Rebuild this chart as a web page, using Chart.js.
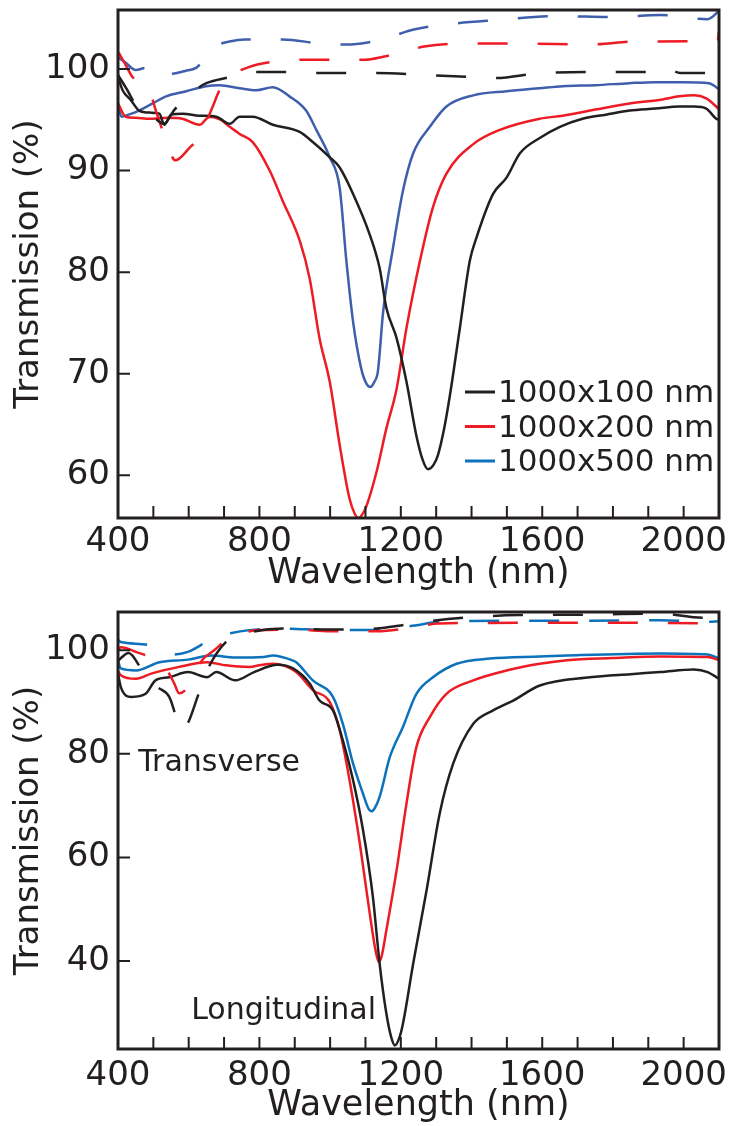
<!DOCTYPE html>
<html>
<head>
<meta charset="utf-8">
<script src="https://cdn.jsdelivr.net/npm/chart.js@4.4.0/dist/chart.umd.min.js"></script>
<style>
  html, body { margin: 0; padding: 0; background: #fff; }
  canvas { display: block; }
</style>
</head>
<body>
<canvas id="topChart" width="736" height="600"></canvas>
<canvas id="bottomChart" width="736" height="526"></canvas>
<script>
// wavelength (nm) / transmission (%)

// top panel, longitudinal (solid)
const top100X = [400, 413, 437, 460, 490, 517, 531, 550, 583, 630, 678, 716, 744, 781, 838, 914, 951, 999, 1027, 1065, 1112, 1140, 1159, 1188, 1216, 1244, 1262, 1277, 1292, 1305, 1322, 1339, 1367, 1395, 1414, 1461, 1499, 1537, 1593, 1650, 1714, 1780, 1847, 1920, 1988, 2030, 2064, 2092, 2100];
const top100Y = [99.2, 97.9, 96.9, 95.9, 95.7, 95.6, 94.5, 95.5, 95.6, 95.4, 95.3, 94.6, 95.3, 95.3, 94.5, 93.8, 92.8, 91.3, 90.3, 87.7, 83.7, 80.4, 76.5, 73.5, 69.2, 63.9, 61.5, 60.6, 61.0, 62.0, 64.5, 67.9, 74.5, 81.1, 83.4, 87.7, 89.3, 91.7, 93.2, 94.3, 95.1, 95.5, 95.9, 96.1, 96.3, 96.3, 96.1, 95.1, 95.0];
const top200X = [400, 422, 450, 489, 540, 582, 631, 659, 690, 716, 744, 781, 829, 866, 914, 942, 970, 999, 1027, 1055, 1070, 1080, 1092, 1103, 1131, 1159, 1188, 1216, 1254, 1291, 1329, 1405, 1480, 1593, 1658, 1750, 1847, 1940, 1988, 2030, 2064, 2092, 2100];
const top200Y = [96.6, 95.3, 95.2, 95.1, 95.2, 95.1, 94.5, 95.3, 95.0, 94.3, 93.6, 92.8, 90.0, 87.0, 83.1, 79.4, 73.5, 69.2, 63.0, 57.7, 56.2, 55.8, 56.2, 57.0, 60.3, 64.6, 68.5, 74.5, 81.1, 86.4, 89.7, 92.6, 94.0, 95.1, 95.4, 96.0, 96.6, 97.0, 97.3, 97.4, 97.1, 96.3, 96.0];
const top500X = [400, 410, 430, 460, 498, 536, 593, 649, 687, 744, 791, 838, 885, 932, 961, 999, 1027, 1046, 1065, 1088, 1103, 1114, 1125, 1135, 1150, 1178, 1206, 1235, 1282, 1329, 1405, 1499, 1593, 1658, 1750, 1846, 1920, 1998, 2072, 2092, 2100];
const top500Y = [96.5, 95.3, 95.5, 95.9, 96.6, 97.3, 97.8, 98.3, 98.4, 98.1, 97.9, 98.2, 97.3, 95.9, 94.0, 91.3, 88.3, 81.1, 75.1, 70.5, 69.0, 68.7, 69.2, 70.2, 76.1, 82.4, 88.0, 91.7, 94.3, 96.3, 97.4, 97.8, 98.1, 98.3, 98.4, 98.6, 98.7, 98.7, 98.6, 98.2, 98.0];

// top panel, transverse (dashed)
const top100TX = [400, 425, 450, 480, 510, 530, 560, 597, 630, 650, 678, 718, 785, 866, 948, 1066, 1132, 1266, 1400, 1467, 1601, 1801, 1930, 1961, 1990, 2060, 2100];
const top100TY = [99.4, 98.0, 96.5, 96.0, 95.0, 94.6, 96.0, 97.1, 98.2, 98.6, 98.9, 99.2, 99.7, 99.7, 99.6, 99.6, 99.6, 99.4, 99.2, 99.1, 99.6, 99.7, 99.7, 99.9, 99.6, 99.6, 99.7];
const top200TX = [402, 420, 441, 489, 507, 534, 562, 604, 631, 668, 687, 724, 772, 839, 933, 1026, 1100, 1150, 1200, 1266, 1400, 1534, 1735, 1869, 2096, 2100];
const top200TY = [101.6, 100.5, 99.2, 97.9, 95.9, 93.2, 91.0, 92.3, 93.3, 96.3, 97.9, 99.4, 100.2, 100.7, 100.9, 100.9, 100.9, 101.2, 101.6, 102.2, 102.5, 102.5, 102.4, 102.7, 102.8, 103.7];
const top500TX = [402, 422, 450, 479, 507, 550, 590, 621, 649, 687, 715, 759, 866, 973, 1050, 1106, 1146, 1240, 1334, 1466, 1640, 1801, 1934, 2068, 2100];
const top500TY = [101.1, 100.6, 99.9, 100.1, 99.4, 99.5, 99.8, 100.1, 101.1, 102.4, 102.7, 102.9, 102.9, 102.5, 102.4, 102.6, 102.9, 103.9, 104.4, 104.8, 105.2, 105.1, 105.3, 104.9, 105.7];

// bottom panel, longitudinal (solid)
const bot300X = [400, 408, 438, 478, 506, 545, 598, 652, 678, 732, 785, 852, 895, 942, 970, 1008, 1036, 1065, 1093, 1121, 1140, 1159, 1172, 1183, 1195, 1206, 1235, 1273, 1310, 1348, 1405, 1461, 1518, 1593, 1735, 1850, 1934, 2029, 2068, 2100];
const bot300Y = [95.5, 92.9, 91.0, 91.6, 94.2, 94.8, 95.8, 94.8, 95.8, 94.2, 95.8, 97.2, 96.5, 93.6, 90.3, 88.4, 82.6, 74.9, 65.3, 52.4, 39.5, 29.9, 25.5, 23.7, 25.0, 27.9, 39.5, 53.7, 68.5, 78.1, 85.8, 88.4, 90.3, 93.2, 94.8, 95.4, 95.8, 96.3, 95.8, 94.5];
const bot500X = [400, 408, 451, 494, 573, 652, 705, 772, 800, 838, 904, 951, 999, 1027, 1055, 1084, 1112, 1130, 1138, 1146, 1159, 1188, 1216, 1244, 1282, 1329, 1405, 1499, 1593, 1670, 1800, 1934, 2068, 2100];
const bot500Y = [96.0, 95.2, 94.5, 95.5, 96.8, 97.7, 97.1, 96.8, 97.1, 97.4, 95.8, 92.3, 90.0, 84.6, 74.9, 62.7, 49.2, 41.5, 39.8, 41.0, 45.9, 57.5, 70.4, 81.3, 87.1, 91.6, 94.2, 96.1, 97.4, 98.1, 98.5, 98.8, 98.7, 98.1];
const bot1000X = [400, 408, 451, 517, 598, 664, 732, 812, 838, 892, 904, 951, 1008, 1036, 1065, 1093, 1108, 1117, 1126, 1140, 1169, 1206, 1244, 1291, 1358, 1452, 1593, 1670, 1934, 2068, 2100];
const bot1000Y = [98.0, 96.5, 96.1, 97.7, 98.2, 99.0, 98.6, 98.7, 99.0, 98.1, 97.7, 94.2, 91.0, 85.8, 78.1, 72.3, 69.5, 68.9, 69.5, 71.7, 79.4, 85.2, 91.6, 94.8, 97.4, 98.4, 98.8, 99.0, 99.4, 99.2, 98.4];

// bottom panel, transverse (dashed)
const bot300TX = [400, 430, 470, 510, 545, 565, 580, 598, 625, 652, 705, 759, 866, 1000, 1132, 1200, 1266, 1400, 1534, 1735, 1934, 2029, 2100];
const bot300TY = [98.0, 99.5, 96.0, 93.0, 91.0, 87.1, 84.6, 86.0, 91.0, 96.1, 101.6, 103.2, 104.2, 104.0, 104.2, 104.8, 105.5, 106.4, 106.8, 106.9, 107.1, 106.4, 106.2];
const bot500TX = [400, 408, 451, 506, 540, 559, 573, 598, 638, 672, 705, 732, 799, 900, 1000, 1132, 1240, 1307, 1534, 1934, 2100];
const bot500TY = [100.0, 100.6, 99.7, 98.1, 96.0, 93.6, 91.7, 92.9, 98.1, 100.0, 101.9, 102.9, 103.9, 104.0, 103.7, 103.7, 104.5, 105.2, 105.3, 105.3, 105.2];
const bot1000TX = [400, 408, 488, 517, 560, 598, 625, 664, 718, 772, 866, 999, 1132, 1240, 1307, 1534, 1735, 1934, 2068, 2100];
const bot1000TY = [102.0, 101.6, 101.0, 99.7, 99.2, 99.7, 100.6, 102.3, 103.3, 103.9, 104.2, 103.9, 103.9, 104.8, 105.5, 105.7, 105.7, 105.8, 105.5, 105.6];

// axes
const xTickLabels = [400, 800, 1200, 1600, 2000];
const topYTicks = [60, 70, 80, 90, 100];
const bottomYTicks = [40, 60, 80, 100];

const INK = '#231f20';
const RED = '#ed1c24';
const BLUE_TOP = '#3f5fad';
const BLUE = '#0b72bb';
const FONT = '"DejaVu Sans", sans-serif';

function pts(xs, ys) {
  return xs.map((x, i) => ({ x: x, y: ys[i] }));
}

function solid(label, xs, ys, color, legendColor) {
  return {
    label: label, data: pts(xs, ys), borderColor: color, legendColor: legendColor || color,
    borderWidth: 2.5, pointRadius: 0, cubicInterpolationMode: 'monotone', fill: false
  };
}

function dashed(xs, ys, color) {
  return {
    label: '', data: pts(xs, ys), borderColor: color, borderWidth: 2.5,
    borderDash: [30, 30], pointRadius: 0, cubicInterpolationMode: 'monotone', fill: false
  };
}

// no automatic label padding, so the plot box sits where the layout says
function noPad(s) {
  s.paddingTop = 0; s.paddingBottom = 0; s.paddingLeft = 0; s.paddingRight = 0;
}

// frame, inward ticks, legend and text notes
const extrasPlugin = {
  id: 'extras',
  afterDraw(chart, args, opts) {
    const ctx = chart.ctx;
    const a = chart.chartArea;
    const x = chart.scales.x, y = chart.scales.y;
    ctx.save();
    ctx.strokeStyle = INK;
    ctx.lineWidth = 2;
    ctx.beginPath();
    for (let w = 400; w <= 2100; w += 100) {
      const px = x.getPixelForValue(w);
      ctx.moveTo(px, a.bottom);
      ctx.lineTo(px, a.bottom - 12);
    }
    opts.yTicks.forEach(v => {
      const py = y.getPixelForValue(v);
      ctx.moveTo(a.left, py);
      ctx.lineTo(a.left + 12, py);
    });
    ctx.stroke();

    ctx.lineWidth = 3;
    ctx.strokeRect(a.left, a.top, a.right - a.left, a.bottom - a.top);

    // legend
    const lg = opts.legend;
    ctx.font = '31px ' + FONT;
    ctx.textBaseline = 'middle';
    ctx.textAlign = 'left';
    ctx.fillStyle = INK;
    chart.data.datasets.filter(d => d.label).forEach((d, i) => {
      const ly = lg.y + i * lg.step;
      ctx.strokeStyle = d.legendColor;
      ctx.lineWidth = 3;
      ctx.beginPath();
      ctx.moveTo(lg.x, ly);
      ctx.lineTo(lg.x + lg.sample, ly);
      ctx.stroke();
      ctx.fillText(d.label, lg.x + lg.sample + 3, ly + 2);
    });

    // notes
    ctx.font = '30px ' + FONT;
    (opts.notes || []).forEach(n => {
      ctx.fillText(n.text, x.getPixelForValue(n.x), y.getPixelForValue(n.y));
    });
    ctx.restore();
  }
};

function makeChart(id, datasets, cfg) {
  return new Chart(document.getElementById(id), {
    type: 'line',
    data: { datasets: datasets },
    options: {
      responsive: false,
      animation: false,
      layout: { padding: { left: 0, right: 17, top: cfg.top, bottom: 0 } },
      scales: {
        x: {
          type: 'linear', min: 400, max: 2100,
          grid: { display: false, drawTicks: false },
          border: { display: false },
          afterBuildTicks: s => { s.ticks = xTickLabels.map(v => ({ value: v })); },
          afterFit: s => { s.height = cfg.xHeight; noPad(s); },
          ticks: { color: INK, padding: cfg.xPad, maxRotation: 0, autoSkip: false,
                   callback: v => String(v),
                   font: { family: FONT, size: 34, lineHeight: 1 } },
          title: { display: true, text: 'Wavelength (nm)', color: INK,
                   padding: { top: 0, bottom: cfg.titlePad },
                   font: { family: FONT, size: 35, lineHeight: 1 } }
        },
        y: {
          min: cfg.yMin, max: cfg.yMax,
          grid: { display: false, drawTicks: false },
          border: { display: false },
          afterBuildTicks: s => { s.ticks = cfg.yTicks.map(v => ({ value: v })); },
          afterFit: s => { s.width = 118; noPad(s); },
          ticks: { color: INK, padding: 8, callback: v => String(v),
                   font: { family: FONT, size: 34, lineHeight: 1 } },
          title: { display: true, text: 'Transmission (%)', color: INK,
                   padding: { top: 12, bottom: 0 },
                   font: { family: FONT, size: 34, lineHeight: 1 } }
        }
      },
      plugins: {
        legend: { display: false },
        tooltip: { enabled: false },
        extras: { yTicks: cfg.yTicks, legend: cfg.legend, notes: cfg.notes }
      }
    },
    plugins: [extrasPlugin]
  });
}

makeChart('topChart', [
  dashed(top100TX, top100TY, INK),
  dashed(top200TX, top200TY, RED),
  dashed(top500TX, top500TY, BLUE_TOP),
  solid('1000x100 nm', top100X, top100Y, INK),
  solid('1000x200 nm', top200X, top200Y, RED),
  solid('1000x500 nm', top500X, top500Y, BLUE_TOP, BLUE)
], {
  top: 10, xHeight: 82, xPad: 7, titlePad: 9,
  yMin: 55.8, yMax: 105.8, yTicks: topYTicks,
  legend: { x: 465, y: 392, step: 34.5, sample: 30 },
  notes: []
});

makeChart('bottomChart', [
  dashed(bot300TX, bot300TY, INK),
  dashed(bot500TX, bot500TY, RED),
  dashed(bot1000TX, bot1000TY, BLUE),
  solid('300x500 nm', bot300X, bot300Y, INK),
  solid('500x500 nm', bot500X, bot500Y, RED),
  solid('1000x500 nm', bot1000X, bot1000Y, BLUE)
], {
  top: 12, xHeight: 77, xPad: 10, titlePad: 3,
  yMin: 23, yMax: 107.4, yTicks: bottomYTicks,
  legend: { x: 452, y: 860, step: 34.5, sample: 31 },
  notes: [
    { text: 'Transverse', x: 457, y: 78.2 },
    { text: 'Longitudinal', x: 607, y: 30.3 }
  ]
});
</script>
</body>
</html>
